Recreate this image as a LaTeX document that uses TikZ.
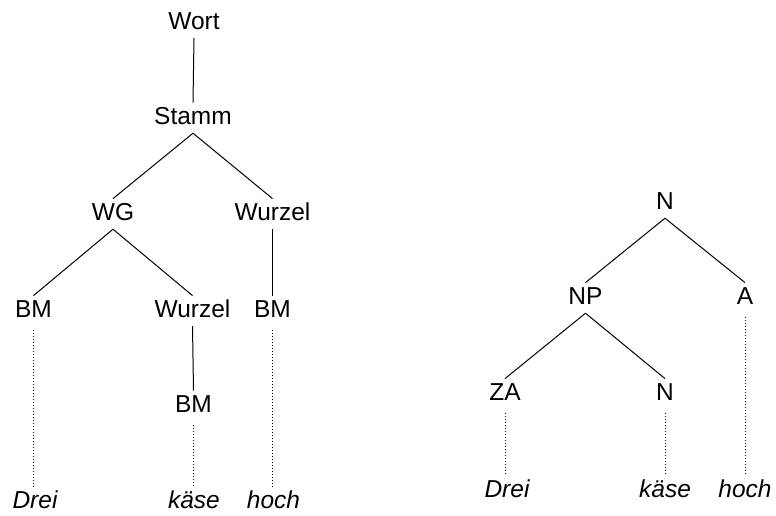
\documentclass[tikz,border=0pt]{standalone}
\usepackage{fontspec}
\setmainfont{Liberation Sans}
\begin{document}
\begin{tikzpicture}[x=1pt,y=-1pt,
  lbl/.style={anchor=base,inner sep=4pt,text height=17.2pt,text depth=5pt,
    font=\fontsize{24.5}{28}\selectfont},
  word/.style={lbl,font=\fontsize{24.5}{28}\selectfont\itshape},
  edge/.style={draw=black,line width=1pt},
  leaf/.style={draw=black,line width=0.9pt,dash pattern=on 0.9pt off 2.1pt,shorten <=4pt}]
\useasboundingbox (0,0) rectangle (776,515);

% word-formation tree
\node[lbl] (wort)   at (194,29)    {Wort};
\node[lbl] (stamm)  at (193,124)   {Stamm};
\node[lbl] (wg)     at (113,220)   {WG};
\node[lbl] (wzA)    at (272.5,220) {Wurzel};
\node[lbl] (bmA)    at (33.5,317)  {BM};
\node[lbl] (wzB)    at (192.5,317) {Wurzel};
\node[lbl] (bmB)    at (272.5,317) {BM};
\node[lbl] (bmC)    at (193.5,412) {BM};
\node[word] (dreiL) at (35,508)    {Drei};
\node[word] (kaeseL) at (194,508)  {käse};
\node[word] (hochL) at (273.5,508) {hoch};

\draw[edge] (wort.south) -- (stamm.north);
\draw[edge] (stamm.south) -- (wg.north);
\draw[edge] (stamm.south) -- (wzA.north);
\draw[edge] (wg.south) -- (bmA.north);
\draw[edge] (wg.south) -- (wzB.north);
\draw[edge] (wzA.south) -- (bmB.north);
\draw[edge] (wzB.south) -- (bmC.north);
\draw[leaf] (bmA.south) -- (bmA.south |- dreiL.north);
\draw[leaf] (bmC.south) -- (bmC.south |- kaeseL.north);
\draw[leaf] (bmB.south) -- (bmB.south |- hochL.north);

% category tree
\node[lbl] (n)     at (665,209)   {N};
\node[lbl] (np)    at (585.5,304) {NP};
\node[lbl] (a)     at (745,304)   {A};
\node[lbl] (za)    at (505,400)   {ZA};
\node[lbl] (nB)    at (665,400)   {N};
\node[word] (dreiR) at (507,497)  {Drei};
\node[word] (kaeseR) at (665,497) {käse};
\node[word] (hochR) at (745,497)  {hoch};

\draw[edge] (n.south) -- (np.north);
\draw[edge] (n.south) -- (a.north);
\draw[edge] (np.south) -- (za.north);
\draw[edge] (np.south) -- (nB.north);
\draw[leaf] (za.south) -- (za.south |- dreiR.north);
\draw[leaf] (nB.south) -- (nB.south |- kaeseR.north);
\draw[leaf] (a.south) -- (a.south |- hochR.north);
\end{tikzpicture}
\end{document}
